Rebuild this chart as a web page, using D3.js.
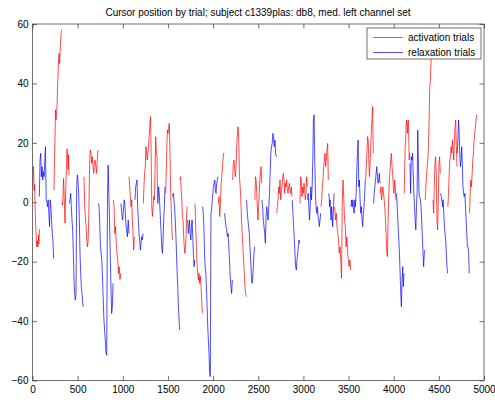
<!DOCTYPE html>
<html>
<head>
<meta charset="utf-8">
<script src="https://cdn.jsdelivr.net/npm/d3@7/dist/d3.min.js"></script>
<style>
  body { margin: 0; background: #fff; }
  svg text { font-family: "Liberation Sans", Arial, Helvetica, sans-serif; fill: #000; }
</style>
</head>
<body>
<svg id="chart" width="495" height="400"></svg>
<script>
// Cursor position, one entry per trial: type, first and last sample, and the cursor trace.
const trialType = ["act","rel","act","act","rel","act","rel","act","rel","act","rel","act","rel","act","rel",
  "act","rel","act","rel","act","rel","act","rel","act","rel","act","rel","act","rel","act",
  "rel","act","rel","act","rel","act","rel","act","rel","act","act","rel","act","rel","act"];
const trialStart = [0,76,238,327,408,570,729,895,980,1069,1135,1227,1389,1475,1552,1633,1718,1800,1884,2058,
  2127,2216,2371,2463,2541,2704,2877,2962,3046,3195,3279,3347,3526,3689,3777,3851,4028,4117,4180,4349,
  4435,4519,4600,4704,4840];
const trialEnd = [77,234,323,405,563,725,892,977,1069,1128,1224,1386,1467,1549,1630,1715,1796,1881,2054,2124,
  2213,2368,2460,2538,2700,2874,2959,3043,3191,3276,3340,3523,3686,3774,3848,4025,4114,4177,4346,4428,
  4516,4597,4701,4837,4919];
const trialCursor = [
  [5,9,12,4,6,-3,-8,-12,-15,-13,-15,-11,-14,-9],
  [1.9,14.2,16.5,8.6,12,7.5,10.3,8.6,14.2,18.7,0.8,0.2,-1.5,0.8,-3.7,-8.2,0.8,-1.5,-6,-10.5,-12.7,-18.9],
  [4.1,14.2,22.1,31.1,27.7,29.9,32.2,38.9,43.4,47.9,50.1,46.7,51.2,54.6,56.9,58],
  [0,-1,2,8,4,-2,-7,2,8,12,18,14,11,16,9],
  [-0.4,0.8,3,-1.5,-6,-9.3,-17.2,-26.2,-30.7,-32.9,-30.7,5.2,9.2,7.5,3,-6,-17.2,-23.9,-28.4,-30.7,-34,-35.2],
  [8.6,-1.5,-4.8,-8.2,-12.7,-15,-12.7,-3.7,12,17.6,16.5,13.1,15.3,12,9.7,13.1,14.2,12,9.7,14.2,17.6],
  [-0.4,-1.5,-7.1,-15,-17.2,-19.4,-26.2,-32.9,-39.6,-43,-46.4,-50.9,-51.5,0.8,12.5,3,-6,-17.2,-28.4,-37.4,-35.2,-27.3],
  [0.8,-1.5,-10.5,-8.2,-14,-17.2,-19.4,-24,-21.7,-26,-23.9],
  [-0.4,-3.7,-6,-2.6,0.8,-1.5,-7.1,-9.3,-11.6,-6,-10.5],
  [8.6,5.2,1.9,-1.5,0.8,-6,-10.5,-16.1,-11.6],
  [0.8,5.2,6.4,7.5,-1.5,-6,-10.5,-12.7,-16.1,-13.8,-11.6,-12.7,-10.5],
  [-0.4,5.2,9.7,12,18.7,16.5,14.2,16.5,18.7,22.1,25.4,28.8,16.5,-1.5,-4.8,-1.5,1.9,0.8,10.9,22.1,16.5,15.3,-0.4],
  [-0.4,5.2,3,-1.5,-6,-10.5,-15,-17.2,-12.7,-6,-1.5,5.2],
  [3,10.9,19.8,24.3,23.2,25.4,26.6,16.5,5.2,-1.5,-8.2,-12.7],
  [1.9,3,0.8,-1.5,-6,-10.5,-17.2,-23.9,-28.4,-35.2,-39.6,-43],
  [7.5,8.6,4.1,0.8,-4.8,-6,-11.6,-15,-17.2,-15,-10.5,-3,-1.5],
  [-6,-10.5,-8.2,-6,-10.5,-12.7,-8.2,-6,-11.6,-17.2,-21.7,-19.4],
  [-0.4,-8.2,-15,-20.6,-23.9,-26.2,-23.9,-27.3,-25,-28.4,-32.9,-37.4],
  [-1.5,-3.7,-8.2,-17.2,-21.7,-23.9,-28.4,-35.2,-41.9,-46.4,-50.9,-57.6,-58.7,-3.7,-2.6,0.8,3,5.2,6.4,7.5,4.1,3,6.4,7.5,8.6],
  [-0.4,1.9,-4.8,-1.5,5.2,8.6,10.9,14.2,16.5,16.5],
  [-3.7,-6,-8.2,-9.3,-11.6,-10.5,-15,-19.4,-25,-28.4,-30.7,-26.2],
  [7.5,13.1,14.2,10.9,8.6,12,18.7,23.2,25.4,20.9,8.6,5.2,0.8,-6,-10.5,-15,-19.4,-23.9,-28.4,-30.7,-31.8],
  [0.8,-3.7,-6,-8.2,-10.5,-15,-19.4,-23.9,-27.3,-26.2,-21.7,-17.2,-15],
  [0.8,8.6,7.5,3,-1.5,-6,-1.5,3,7.5,9.7,12,6.4],
  [0.8,-1.5,-6,-8.2,-10.5,-13.8,-4.8,-1.5,-3.7,-6,-1.5,3,9.7,16.5,18.7,19.8,23.2,22.1,18.7,20.9,16.5,15.3],
  [-3.7,-1.5,0.8,5.2,3,7.5,0.8,4.1,5.2,8.6,9.7,7.5,3,6.4,5.2,7.5,4.1,3,5.2,6.4,4.1,3,5.2,1.9],
  [0.8,-3.7,-8.2,-12.7,-17.2,-21.7,-22.8,-19.4,-17.2,-15,-12.7,-13.8],
  [-0.4,8.6,7.5,1.9,5.2,3,6.4,5.2,0.8,3,8.6,5.2],
  [0.8,3,-1.5,-6,-1.5,5.2,0.8,5.2,14.2,27.7,29.4,14.2,3,-1.5,-3.7,-1.5,-4.8,-6,-8.2,-6,-3.7],
  [-1.5,0.8,5.2,7.5,12,14.2,16.5,12,14.2,17.6,19.8,7.5],
  [3,1.9,-1.5,0.8,-3.7,-6,-1.5,-3.7,-8.2,-4.8,-1.5,3],
  [-1.5,-6,-3.7,-8.2,-10.5,-12.7,-17.2,-15,-19.4,-25.6,0.8,7.5,0.8,-6,-8.2,-15,-11.6,-17.2,-19.4,-21.7,-19.4,-22.8],
  [-1.5,0.8,-1.5,0.8,-2.6,-3.7,0.8,-1.5,3,10.9,16.5,20.9,5.2,7.5,0.8,-3.7,-1.5,-6,-8.2,-3.7,-1.5,3,7.5],
  [7.5,12,16.5,22.1,20.9,14.2,8.6,13.1,18.7,24.3,27.7,32.2,16.5],
  [-0.4,3,5.2,7.5,9.7,12,8.6,6.4,7.5,9.7,6.4],
  [3,5.2,0.8,3,5.2,3,0.8,-1.5,-6,-10.5,-17.2,-18.3,-6,3,7.5,10.9,14.2,16.5,12,9.7,5.2,3,7.5,5.2,0.8],
  [3,0.8,-3.7,-8.2,-12.7,-17.2,-23.9,-30.7,-35.2,-26.2,-21.7,-28.4,-23.9],
  [3,12,18.7,20.9,25.4,27.7,25.4,23.2,26.6,27.7,20.9,14.2,16.5],
  [13.1,3,15.3,14.2,16.5,9.7,3,-1.5,-6,-9.3,-1.5,3,24.3,12,3,1.9,0.8,-1.5,-6,-11.6,-17.2,-21.7,-17.2,-16.1],
  [0.8,5.2,8.6,12,14.2,18.7,27.7,38.9,41.1,47.9,52.4,56.9],
  [0.8,-3.7,5.2,13.1,15.3,9.7,-6,-9.3,0.8,13.1,15.3,9.7],
  [3,1.9,0.8,-1.5,0.8,-3.7,-8.2,-10.5,-12.7,-17.2,-21.7,-23.9],
  [-1.5,3,9.7,14.2,15.3,18.7,16.5,20.9,17.6,14.2,20.9,25.4,27.7,18.7,12],
  [16.5,20.9,27.7,23.2,16.5,12,14.2,18.7,13.1,5.2,3,1.9,3,-1.5,-6,-10.5,-15,-15,-17.2,-23.9],
  [-3.7,3,7.5,5.2,9.7,14.2,16.5,20.9,23.2,25.4,27.7,29.4]
];

const xTicks = [0,500,1000,1500,2000,2500,3000,3500,4000,4500,5000];
const yTicks = [-60,-40,-20,0,20,40,60];
const titleText = "Cursor position by trial; subject c1339plas: db8, med. left channel set";
const legendLabels = ["activation trials", "relaxation trials"];
const typeColor = { act: "#ff0000", rel: "#0000ff" };
const legendTypes = ["act", "rel"];

const svg = d3.select("#chart");
const plotL = 32.5, plotR = 484, plotT = 24, plotB = 380.5;
const x = d3.scaleLinear().domain([0, 5000]).range([plotL, plotR]);
const y = d3.scaleLinear().domain([-60, 60]).range([plotB, plotT]);
const axisColor = "#333";

svg.append("rect").attr("width", 495).attr("height", 400).attr("fill", "#fff");

svg.append("defs").append("clipPath").attr("id", "plotClip")
  .append("rect").attr("x", plotL).attr("y", plotT)
  .attr("width", plotR - plotL).attr("height", plotB - plotT);

// One polyline per trial, samples spread evenly over the trial's span
const trials = trialType.map((t, i) => {
  const ys = trialCursor[i];
  const n = ys.length;
  const pts = ys.map((v, k) => [trialStart[i] + (trialEnd[i] - trialStart[i]) * k / (n - 1), v]);
  return { type: t, pts };
});

const line = d3.line().x(d => x(d[0])).y(d => y(d[1]));
svg.append("g").attr("clip-path", "url(#plotClip)")
  .selectAll("path").data(trials).join("path")
  .attr("d", d => line(d.pts))
  .attr("fill", "none")
  .attr("stroke", d => typeColor[d.type])
  .attr("stroke-width", 0.7)
  .attr("stroke-linejoin", "round");

// Box axes with inward ticks on all four sides
const tick = 4.5;
const fontSize = 10;
const gx = svg.append("g").attr("transform", `translate(0,${plotB})`)
  .call(d3.axisBottom(x).tickValues(xTicks).tickSizeInner(-tick).tickSizeOuter(0).tickPadding(5.5).tickFormat(d3.format("d")));
const gxt = svg.append("g").attr("transform", `translate(0,${plotT})`)
  .call(d3.axisTop(x).tickValues(xTicks).tickSizeInner(-tick).tickSizeOuter(0).tickFormat(""));
const gy = svg.append("g").attr("transform", `translate(${plotL},0)`)
  .call(d3.axisLeft(y).tickValues(yTicks).tickSizeInner(-tick).tickSizeOuter(0).tickPadding(4).tickFormat(d3.format("d")));
const gyr = svg.append("g").attr("transform", `translate(${plotR},0)`)
  .call(d3.axisRight(y).tickValues(yTicks).tickSizeInner(-tick).tickSizeOuter(0).tickFormat(""));
[gx, gxt, gy, gyr].forEach(g => {
  g.select(".domain").remove();
  g.selectAll("line").attr("stroke", axisColor).attr("stroke-width", 0.7);
  g.selectAll("text").attr("font-size", fontSize).attr("font-family", null).attr("fill", "#000");
});

svg.append("rect").attr("x", plotL).attr("y", plotT)
  .attr("width", plotR - plotL).attr("height", plotB - plotT)
  .attr("fill", "none").attr("stroke", axisColor).attr("stroke-width", 0.7);

svg.append("text").attr("x", 258).attr("y", 16).attr("text-anchor", "middle")
  .attr("font-size", 10).text(titleText);

// Legend box in the upper right corner
const lg = svg.append("g").attr("transform", "translate(367,28)");
lg.append("rect").attr("width", 114).attr("height", 31)
  .attr("fill", "#fff").attr("stroke", axisColor).attr("stroke-width", 0.7);
legendTypes.forEach((t, i) => {
  const ly = 9.5 + i * 15;
  lg.append("line").attr("x1", 6).attr("x2", 36).attr("y1", ly).attr("y2", ly)
    .attr("stroke", typeColor[t]).attr("stroke-width", 0.7);
  lg.append("text").attr("x", 41).attr("y", ly + 3.5).attr("font-size", 10).text(legendLabels[i]);
});
</script>
</body>
</html>
